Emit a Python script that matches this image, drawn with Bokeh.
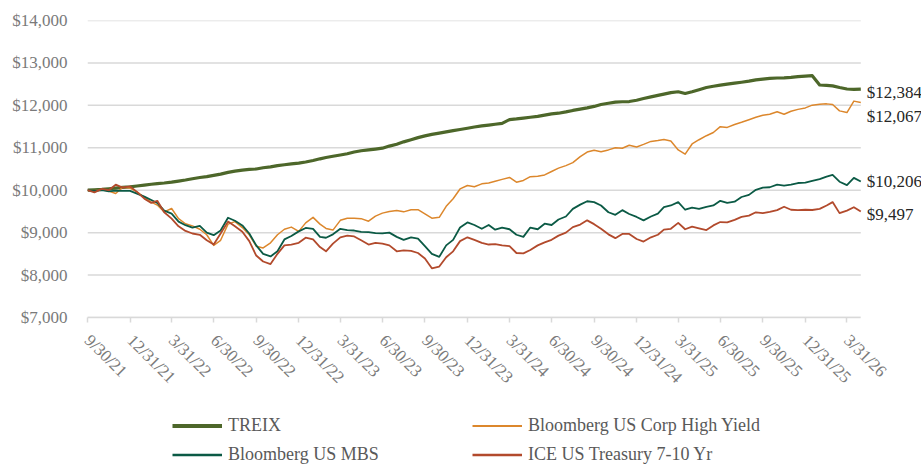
import math
import pandas as pd
from bokeh.plotting import figure
from bokeh.layouts import column
from bokeh.models import (FixedTicker, NumeralTickFormatter, Legend, LegendItem,
                          Range1d, ColumnDataSource)
from bokeh.core.properties import value
from bokeh.embed import file_html
from bokeh.resources import INLINE

# ---------------- data ----------------
try:
    dates = pd.date_range("2021-09-30", "2026-04-30", freq="SME")
except Exception:
    dates = pd.date_range("2021-09-30", "2026-04-30", freq="SM")

treix = [10000,10010,10020,10035,10050,10065,10080,10100,10120,10140,
         10155,10170,10190,10215,10240,10270,10300,10320,10350,10380,
         10420,10450,10475,10490,10500,10530,10550,10580,10600,10620,
         10640,10665,10700,10740,10770,10800,10830,10860,10900,10930,
         10950,10970,10990,11040,11085,11140,11190,11240,11280,11315,
         11345,11375,11405,11430,11460,11490,11515,11535,11555,11575,
         11665,11680,11700,11720,11740,11770,11800,11815,11845,11880,
         11910,11940,11975,12020,12050,12075,12085,12090,12120,12160,
         12200,12235,12265,12300,12320,12280,12320,12370,12420,12450,
         12475,12500,12525,12545,12570,12600,12620,12635,12645,12650,
         12660,12675,12690,12700,12480,12470,12460,12420,12385,12375,
         12384]

high_yield = [10000,9990,10020,9980,9922,10070,10050,9960,9830,9720,
              9650,9490,9570,9330,9210,9160,9080,8950,8700,8820,
              9200,9260,9120,8950,8680,8640,8760,8950,9080,9130,
              9030,9230,9360,9200,9100,9060,9290,9340,9340,9330,
              9270,9390,9460,9500,9520,9490,9540,9540,9440,9340,
              9360,9620,9800,10030,10110,10080,10150,10170,10210,10255,
              10300,10190,10230,10320,10330,10360,10440,10520,10580,10650,
              10790,10900,10940,10905,10950,11000,10990,11060,11020,11080,
              11150,11170,11195,11160,10950,10850,11090,11190,11285,11360,
              11497,11480,11550,11600,11660,11718,11765,11790,11850,11790,
              11860,11905,11940,12005,12025,12035,12020,11870,11830,12100,
              12067]

mbs = [10000,9985,10000,9975,9990,9985,9985,9920,9850,9770,
       9700,9520,9450,9260,9175,9120,9160,9000,8940,9050,
       9350,9280,9170,8980,8700,8500,8440,8560,8840,8920,
       9030,9110,9090,8900,8880,8960,9090,9060,9050,9020,
       9010,8990,8985,9000,8900,8830,8890,8860,8680,8500,
       8430,8700,8830,9120,9240,9180,9090,9180,9070,9120,
       9080,8950,8900,9120,9080,9210,9180,9310,9380,9560,
       9660,9740,9720,9640,9480,9420,9530,9440,9370,9290,
       9380,9450,9600,9640,9720,9540,9590,9560,9610,9640,
       9750,9700,9730,9840,9890,10010,10063,10070,10130,10110,
       10130,10170,10180,10220,10260,10320,10360,10200,10120,10290,
       10206]

treasury = [10000,9950,10030,10000,10130,10060,10090,9960,9800,9700,
            9750,9480,9330,9150,9040,8980,8950,8820,8720,8980,
            9260,9150,9020,8800,8460,8320,8260,8500,8700,8720,
            8760,8880,8840,8660,8560,8740,8890,8930,8910,8820,
            8720,8760,8740,8700,8560,8580,8570,8520,8390,8160,
            8200,8420,8560,8800,8890,8830,8760,8720,8730,8700,
            8680,8520,8510,8590,8700,8770,8830,8930,9000,9130,
            9190,9290,9200,9090,8960,8870,8970,8970,8850,8790,
            8890,8950,9070,9090,9230,9080,9140,9100,9060,9170,
            9250,9240,9300,9370,9400,9480,9460,9490,9530,9610,
            9540,9530,9540,9534,9560,9640,9720,9460,9520,9600,
            9497]

series_names = ["TREIX", "Bloomberg US Corp High Yield",
                "Bloomberg US MBS", "ICE US Treasury 7-10 Yr"]
end_labels = ["$12,384", "$12,067", "$10,206", "$9,497"]

tick_labels = ["9/30/21", "12/31/21", "3/31/22", "6/30/22", "9/30/22", "12/31/22",
               "3/31/23", "6/30/23", "9/30/23", "12/31/23", "3/31/24", "6/30/24",
               "9/30/24", "12/31/24", "3/31/25", "6/30/25", "9/30/25", "12/31/25",
               "3/31/26"]
y_ticks = [7000, 8000, 9000, 10000, 11000, 12000, 13000, 14000]

# ---------------- styles ----------------
colors = ["#4D672A", "#DC872C", "#0B5A45", "#B24A2C"]
widths = [3.2, 1.5, 1.8, 1.8]
FONT = "Liberation Serif"
LABEL_GRAY = "#7A7A7A"
GRID = "#D9D9D9"

W = 921
FRAME_L, FRAME_T, FRAME_B = 87, 20, 317
MAIN_H = 400
LEG_H = 70


def ms(ts):
    return int(pd.Timestamp(ts).value // 10**6)


start_ms, end_ms = ms(dates[0]), ms(dates[-1])
# data span occupies 773 px; frame extends to the right edge for the end labels
px_per_ms = 773.3 / (end_ms - start_ms)
range_end = start_ms + (W - FRAME_L) / px_per_ms

cols = ["treix", "hy", "mbs", "tsy"]
src = ColumnDataSource(dict(date=dates, treix=treix, hy=high_yield,
                            mbs=mbs, tsy=treasury))

p = figure(width=W, height=MAIN_H, x_axis_type="datetime",
           output_backend="svg", toolbar_location=None,
           x_range=Range1d(start_ms, range_end),
           y_range=Range1d(7000, 14000),
           min_border_left=FRAME_L, min_border_right=0,
           min_border_top=FRAME_T, min_border_bottom=MAIN_H - FRAME_B)
p.outline_line_color = None
p.xgrid.grid_line_color = None
p.ygrid.grid_line_color = None

# horizontal gridlines spanning only the data period
grid_src = ColumnDataSource(dict(y=y_ticks))
p.segment(x0=start_ms, x1=end_ms, y0="y", y1="y", source=grid_src,
          line_color=GRID, line_width=1.5)

for col, c, w in zip(cols, colors, widths):
    p.line("date", col, source=src, line_color=c, line_width=w,
           line_join="round")

# y axis
p.yaxis.ticker = FixedTicker(ticks=y_ticks)
p.yaxis.formatter = NumeralTickFormatter(format="$0,0")
p.yaxis.axis_line_color = None
p.yaxis.major_tick_line_color = None
p.yaxis.minor_tick_line_color = None
p.yaxis.major_tick_out = 0
p.yaxis.major_label_standoff = 20
p.yaxis.major_label_text_font = FONT
p.yaxis.major_label_text_font_size = "17px"
p.yaxis.major_label_text_color = LABEL_GRAY

# x axis
tick_ms = [ms(pd.to_datetime(t, format="%m/%d/%y")) for t in tick_labels]
p.xaxis.ticker = FixedTicker(ticks=tick_ms)
p.xaxis.major_label_overrides = {t: lab for t, lab in zip(tick_ms, tick_labels)}
p.xaxis.major_label_orientation = -math.pi / 4
p.xaxis.bounds = (start_ms, end_ms)
p.xaxis.axis_line_color = GRID
p.xaxis.axis_line_width = 1.5
p.xaxis.major_tick_line_color = GRID
p.xaxis.major_tick_line_width = 1.5
p.xaxis.major_tick_in = 0
p.xaxis.major_tick_out = 5
p.xaxis.minor_tick_line_color = None
p.xaxis.major_label_standoff = 15
p.xaxis.major_label_text_font = FONT
p.xaxis.major_label_text_font_size = "17px"
p.xaxis.major_label_text_color = LABEL_GRAY

# end-of-line value labels
label_dy = [3, 14, 0, 3]
end_src = ColumnDataSource(dict(
    x=[dates[-1]] * 4,
    y=[treix[-1], high_yield[-1], mbs[-1], treasury[-1]],
    text=end_labels, dy=label_dy))
p.text(x="x", y="y", text="text", source=end_src, x_offset=6, y_offset="dy",
       text_baseline="middle", text_align="left",
       text_font=value(FONT), text_font_size=value("17px"),
       text_color="#262626")

# legend in its own strip below the chart (its lines lie outside its ranges)
p2 = figure(width=W, height=LEG_H, output_backend="svg", toolbar_location=None,
            x_range=Range1d(0, 1), y_range=Range1d(0, 1),
            x_axis_location=None, y_axis_location=None,
            min_border_left=0, min_border_right=0,
            min_border_top=0, min_border_bottom=0)
p2.outline_line_color = None
p2.grid.visible = False
leg_renderers = [p2.line("date", col, source=src, line_color=c, line_width=w + 0.6)
                 for col, c, w in zip(cols, colors, widths)]
items = [LegendItem(label=n, renderers=[r])
         for n, r in zip(series_names, leg_renderers)]
legend = Legend(items=items, orientation="horizontal", ncols=2,
                location=(85, 1), padding=0, margin=0, spacing=0,
                glyph_width=50, glyph_height=29, label_standoff=6,
                label_width=244, border_line_color=None,
                background_fill_alpha=0,
                label_text_font=FONT, label_text_font_size="18px",
                label_text_color="#595959")
p2.add_layout(legend, "center")

layout = column(p, p2, spacing=0)
open("out.html", "w").write(file_html(layout, INLINE))
